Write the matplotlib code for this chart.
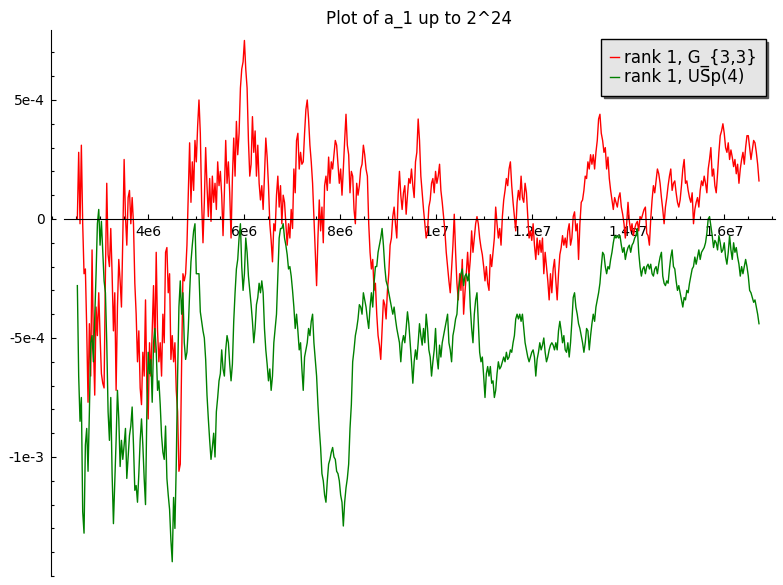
import numpy as np
import matplotlib
matplotlib.use("Agg")
import matplotlib.pyplot as plt
from matplotlib.ticker import MultipleLocator

# values, in units of 1e-4, evenly spaced in x
red_vals = [
    0.0, 2.8, -0.2, 3.1, -0.2, -2.3, -2.1, -4.6, -7.7, -4.4, -6.6, -1.3, -5.2, -7.4, -3.7, -4.9,
    -3.1, -4.9, -6.5, -6.9, -7.1, -2.3, 1.5, -1.5, -2.0, -0.4, -2.3, -4.7, -3.1, -7.2, -3.7, -1.7,
    -2.6, -3.7, -0.8, 2.5, 0.1, -1.1, 0.9, 1.2, -0.2, 0.9, -0.2, -2.7, -4.0, -6.0, -4.7, -7.1,
    -7.8, -5.6, -6.6, -3.4, -7.1, -8.4, -5.2, -6.6, -4.7, -2.8, -5.6, -1.4, -4.7, -6.0, -5.2, -6.6,
    -4.0, -5.2, -1.4, -1.2, -3.1, -2.3, -5.9, -4.9, -6.0, -5.2, -7.2, -8.1, -10.6, -10.3,
    -6.1, -2.3, -2.6, -2.3, -1.1, 1.0, 3.2, 0.7, 2.4, 1.2, 3.3, 2.4, 3.9, 5.0, 3.6, 0.7,
    -1.0, 0.7, 3.0, 1.4, 0.1, 1.7, -0.1, 1.8, 0.7, 1.5, 0.4, 2.4, 1.4, 2.0, 1.0, -0.7,
    1.1, 3.3, 1.5, 2.4, 1.1, -0.8, 1.7, 3.4, 1.8, 4.1, 2.7, 3.6, 5.5, 6.3, 6.6, 7.5,
    6.3, 5.5, 3.3, 1.8, 2.3, 4.3, 2.8, 3.7, 1.8, 3.1, 1.5, 0.8, 1.4, 0.4, 1.8, 3.4,
    2.6, 1.4, -0.2, -0.9, -1.8, -0.2, -0.5, 1.0, 1.8, 0.5, 1.4, -0.2, 1.0, 0.7, -0.2, -1.1,
    -0.2, -0.8, 0.4, -0.4, 2.1, 1.1,
    3.3, 3.6, 2.1, 2.8, 2.3, 2.4, 3.6, 4.6, 5.0, 4.2, 3.1, 2.4, 1.5, 0.1, -1.4, -2.8,
    -0.8, 0.8, -0.5, 0.5, -1.0, 1.4, 1.8, 1.2, 2.6, 1.5, 2.4, 2.1, 2.7, 3.3, 3.1, 2.3,
    1.5, 2.1, 1.0, 2.1, 3.3, 4.4, 3.1, 2.7, 1.1, 2.0, 1.8, 0.4, -0.2, 1.5, 1.0, 1.4,
    2.1, 2.3, 3.1, 2.7, 2.1, 1.8, -0.2, -1.4, -2.1, -1.7, -3.0, -2.7, -4.0, -4.9, -5.3, -5.9,
    -4.6, -3.4, -3.6, -4.2, -3.0, -2.3, -1.1, -0.8, 0.1, 0.5, -0.2, -0.8, 1.0, 2.0, 1.0, 0.4,
    1.1, 1.4, 0.2, 1.0, 1.7, 1.5,
    2.1, 1.4, 0.9, 2.4, 2.8, 4.2, 3.3, 1.8, 1.1, 0.4, -0.2, -0.8, -0.5, 0.5, 0.8, 1.5,
    1.7, 1.1, 2.0, 1.5, 1.8, 2.3, 1.2, 0.7, 0.1, -0.5, -1.4, -2.0, -2.6, -3.1, -2.1, -1.1,
    0.2, -1.4, -2.7, -3.4, -2.3, -3.0, -1.7, -4.0, -3.1, -2.3, -1.4, -2.4, -1.7, -0.5, -1.4, -0.8,
    -0.2, 0.1, -0.2, -0.8, -1.2, -1.5, -2.0, -2.6, -2.0, -2.7, -3.0, -1.5, -2.0, -1.4, -0.8, 0.5,
    -0.2, -0.8, -0.4, -1.1, 0.1, 0.8, 1.2, 1.7, 1.4, 2.1, 2.4, 1.4, 0.7, 0.1, -0.5, 0.7,
    1.2, 0.8, 1.8, 0.9, 0.7, 1.5,
    1.1, 0.1, -0.8, -0.5, -0.9, -0.2, -1.1, -1.7, -0.8, -1.5, -0.9, -1.4, -0.8, -2.3, -1.4, -2.0,
    -2.6, -3.4, -2.3, -3.1, -2.1, -1.7, -2.6, -3.4, -2.3, -1.5, -1.2, -0.7, -1.1, -0.8, -1.2, -0.5,
    -0.2, -1.1, -0.8, 0.1, 0.3, -0.5, -0.2, -1.7, -0.2, 0.7, 0.8, 1.2, 1.8, 1.7, 2.4, 2.1,
    2.7, 2.3, 2.7, 2.1, 2.8, 3.3, 4.2, 4.4, 3.6, 3.3, 2.8, 3.0, 2.1, 2.6, 1.7, 1.2,
    0.8, 0.4, 0.9, 0.7, 0.5, 0.9, 1.1, 0.5, 0.2, -0.2, -0.8, -0.2, 0.7, -0.1, -0.5, -0.2,
    -0.7, -0.4, -0.2, -0.1, -0.5, 0.1,
    -0.0, 0.2, 0.4, 0.5, -0.6, -0.7, -1.1, -0.0, 0.8, 1.4, 1.1, 1.6, 2.1, 1.9, 1.5, 0.9,
    0.4, -0.2, 0.5, 0.9, 1.4, 1.8, 2.1, 1.2, 1.5, 1.6, 1.1, 0.7, 0.5, 0.8, 1.4, 2.1,
    2.5, 1.5, 1.6, 1.2, 0.9, 0.7, 1.1, -0.2, 0.4, 0.7, 0.9, 0.5, 1.2, 1.6, 1.4, 1.8,
    1.5, 1.1, 2.1, 2.5, 3.0, 1.8, 2.1, 1.4, 1.1, 1.9, 2.8, 3.5, 3.7, 4.0, 3.6, 3.0,
    2.8, 3.2, 2.5, 2.9, 2.6, 2.2, 2.5, 1.9, 2.3, 1.5, 2.1, 2.5, 2.8, 2.3, 3.0, 3.5,
    3.5, 3.0, 2.5, 2.9, 3.3, 3.2, 2.8, 2.3, 1.6,
]

green_vals = [
    -2.8, -6.6, -8.5, -7.5, -12.3, -13.2, -9.5, -8.8, -10.6, -8.1, -5.2, -4.9, -6.0, -4.2, -2.3, -0.2,
    0.4, -1.1, -0.1, -1.4, -2.6, -3.1, -5.2, -8.1, -9.3, -7.5, -10.7, -12.8, -11.0, -9.3, -7.2, -8.4,
    -10.4, -9.3, -10.1, -9.5, -8.8, -10.9, -10.0, -9.1, -8.7, -7.9, -9.5, -11.4, -11.2, -11.9, -10.7, -9.3,
    -8.4, -9.5, -10.9, -12.0, -8.1, -5.6, -6.5, -5.9, -7.7, -5.2, -4.6, -5.5, -7.2, -6.8, -7.8, -9.1,
    -9.8, -10.1, -8.7, -10.9, -11.6, -12.2, -13.5, -14.4, -11.7, -13.0, -10.3, -6.6, -3.7, -2.6,
    -4.0, -3.1, -5.2, -5.9, -5.6, -4.6, -3.1, -1.8, -1.1, -0.5, -0.2, -2.3, -2.3, -2.3, -3.9, -4.3,
    -4.7, -5.0, -5.9, -7.4, -8.4, -9.3, -10.1, -9.6, -9.0, -10.0, -8.1, -7.5, -6.8, -6.5, -5.5, -6.3,
    -6.6, -5.5, -4.9, -5.2, -6.1, -6.8, -6.1, -4.3, -3.1, -2.1, -1.7, -0.8, -0.2, -2.0, -3.0, -2.3,
    -0.8, -1.4, -2.4, -3.0, -3.6, -4.3, -5.2, -4.6, -3.6, -3.3, -2.7, -3.1, -2.6, -3.1, -4.6, -5.5,
    -6.1, -6.8, -6.3, -7.2, -6.6, -5.2, -4.6, -4.0, -2.4, -0.8, -0.4, -0.4, -0.2, -0.8, -1.1, -1.5,
    -2.1, -2.0, -2.4, -3.0, -3.7, -4.6,
    -4.0, -4.7, -5.5, -5.2, -6.3, -7.2, -5.8, -5.5, -5.2, -4.6, -4.9, -4.3, -4.0, -5.2, -5.9, -6.6,
    -7.8, -8.8, -9.6, -10.7, -11.0, -11.6, -11.9, -11.0, -10.3, -10.1, -9.8, -9.6, -10.0, -10.1, -10.6, -10.7,
    -11.0, -11.6, -11.9, -12.9, -11.9, -11.3, -10.9, -10.3, -8.8, -7.8, -6.0, -5.5, -4.9, -4.6, -4.2, -3.6,
    -3.7, -4.0, -3.1, -3.4, -3.7, -4.2, -4.6, -3.7, -3.1, -3.7, -2.7, -2.0, -2.0, -1.4, -1.1, -0.8,
    -0.4, -1.1, -2.0, -2.6, -2.8, -3.1, -3.4, -3.7, -4.0, -3.7, -4.2, -4.6, -4.9, -5.2, -6.0, -5.2,
    -4.9, -5.2, -4.6, -3.9, -4.4, -5.2,
    -6.0, -6.9, -6.0, -5.5, -5.9, -5.2, -4.4, -4.9, -5.3, -4.6, -5.2, -4.0, -4.6, -5.5, -5.8, -6.6,
    -6.0, -5.5, -4.6, -5.8, -6.3, -5.3, -5.8, -5.2, -4.9, -4.6, -4.3, -4.0, -5.2, -5.5, -6.0, -4.9,
    -4.6, -4.2, -4.0, -3.1, -2.6, -2.3, -2.1, -2.8, -2.4, -2.3, -2.6, -2.3, -3.7, -4.6, -5.2, -4.0,
    -3.4, -3.1, -4.4, -5.6, -6.0, -5.8, -6.6, -7.5, -6.5, -6.2, -6.6, -6.2, -6.9, -6.8, -7.5, -7.2,
    -6.5, -6.0, -6.3, -6.2, -6.0, -5.8, -6.0, -5.6, -5.9, -5.8, -5.5, -5.6, -5.2, -4.9, -4.2, -4.0,
    -4.2, -4.0, -4.3, -4.0, -4.6, -5.2,
    -5.5, -5.8, -6.0, -5.8, -5.6, -5.5, -5.8, -6.6, -5.9, -5.6, -5.2, -5.5, -5.3, -5.0, -5.6, -6.0,
    -5.8, -5.5, -5.3, -5.2, -5.3, -5.5, -5.2, -5.5, -4.7, -4.3, -4.7, -5.2, -4.9, -5.5, -5.6, -5.2,
    -5.8, -5.2, -4.3, -3.3, -3.1, -3.7, -4.0, -4.4, -4.6, -4.9, -5.2, -5.6, -5.2, -4.6, -4.7, -5.5,
    -4.9, -4.4, -4.0, -4.3, -3.7, -3.4, -3.1, -2.7, -2.0, -1.4, -1.5, -2.0, -2.3, -2.0, -2.1, -1.7,
    -1.4, -1.0, -0.7, -0.8, -0.7, -0.8, -0.7, -1.1, -1.4, -1.2, -1.7, -1.4, -1.2, -1.1, -1.4, -1.1,
    -1.0, -0.8, -0.7, -0.4, -1.4, -2.0,
    -2.4, -2.1, -2.0, -2.3, -2.0, -1.9, -2.1, -1.9, -2.3, -2.4, -2.1, -2.0, -2.3, -1.9, -1.6, -1.4,
    -2.4, -2.7, -2.8, -2.6, -2.7, -2.1, -1.6, -1.3, -2.0, -2.1, -2.6, -3.0, -2.8, -3.1, -3.4, -3.7,
    -3.3, -3.4, -3.0, -3.1, -2.7, -2.4, -2.1, -2.0, -1.6, -1.9, -1.6, -1.3, -1.7, -1.4, -1.3, -1.2,
    -1.0, -0.6, -0.0, 0.1, -0.3, -0.7, -1.2, -0.9, -1.0, -1.3, -0.7, -1.0, -1.4, -1.3, -1.0, -1.6,
    -1.9, -1.4, -0.7, -1.3, -1.7, -1.0, -1.4, -1.2, -1.6, -1.9, -2.4, -2.0, -2.3, -2.0, -1.7, -2.0,
    -2.4, -3.0, -3.1, -3.3, -3.5, -3.4, -3.7, -4.0, -4.4,
]

x_first, x_last = 2.528e6, 16.729e6

xticks = [4e6, 6e6, 8e6, 1e7, 1.2e7, 1.4e7, 1.6e7]
xtick_labels = ["4e6", "6e6", "8e6", "1e7", "1.2e7", "1.4e7", "1.6e7"]
yticks = [-1e-3, -5e-4, 0, 5e-4]
ytick_labels = ["-1e-3", "-5e-4", "0", "5e-4"]

x = np.linspace(x_first, x_last, len(red_vals))
red = np.array(red_vals) * 1e-4
green = np.array(green_vals) * 1e-4

fig = plt.figure(figsize=(7.83, 5.85), dpi=100)
ax = fig.add_axes([51 / 783, 9 / 585, 724 / 783, 546 / 585])

ax.plot(x, red, color="red", lw=1, label="rank 1, G_{3,3}")
ax.plot(x, green, color="green", lw=1, label="rank 1, US\u0304p(4)")

ax.set_xlim(1.979e6, 17.0625e6)
ax.set_ylim(-1.5e-3, 7.94e-4)

# sage style axes: y axis at the left, x axis through zero
ax.spines["top"].set_visible(False)
ax.spines["right"].set_visible(False)
ax.spines["bottom"].set_position(("data", 0))
ax.spines["bottom"].set_bounds(2.25e6, 17.0625e6)

ax.set_xticks(xticks, xtick_labels)
ax.set_yticks(yticks, ytick_labels)
ax.xaxis.set_minor_locator(MultipleLocator(5e5))
ax.yaxis.set_minor_locator(MultipleLocator(1e-4))
ax.tick_params(which="both", direction="in", top=False, right=False,
               width=0.8, labelsize=10, pad=4.5)
ax.tick_params(which="major", length=3.5)
ax.tick_params(which="minor", length=2.3)

fig.text(419 / 783, 1 - 19 / 585, "Plot of a_1 up to 2^24",
         ha="center", va="center", fontsize=12)

leg = ax.legend(loc="upper right", fontsize=12, handlelength=0.55,
                handletextpad=0.25, borderpad=0.55, labelspacing=0.1,
                borderaxespad=0.56, fancybox=False,
                shadow={"color": "0.3", "alpha": 0.9},
                facecolor="#e5e5e5", edgecolor="black", framealpha=1)
leg.get_frame().set_linewidth(1.0)

fig.savefig("out.png", dpi=100)
